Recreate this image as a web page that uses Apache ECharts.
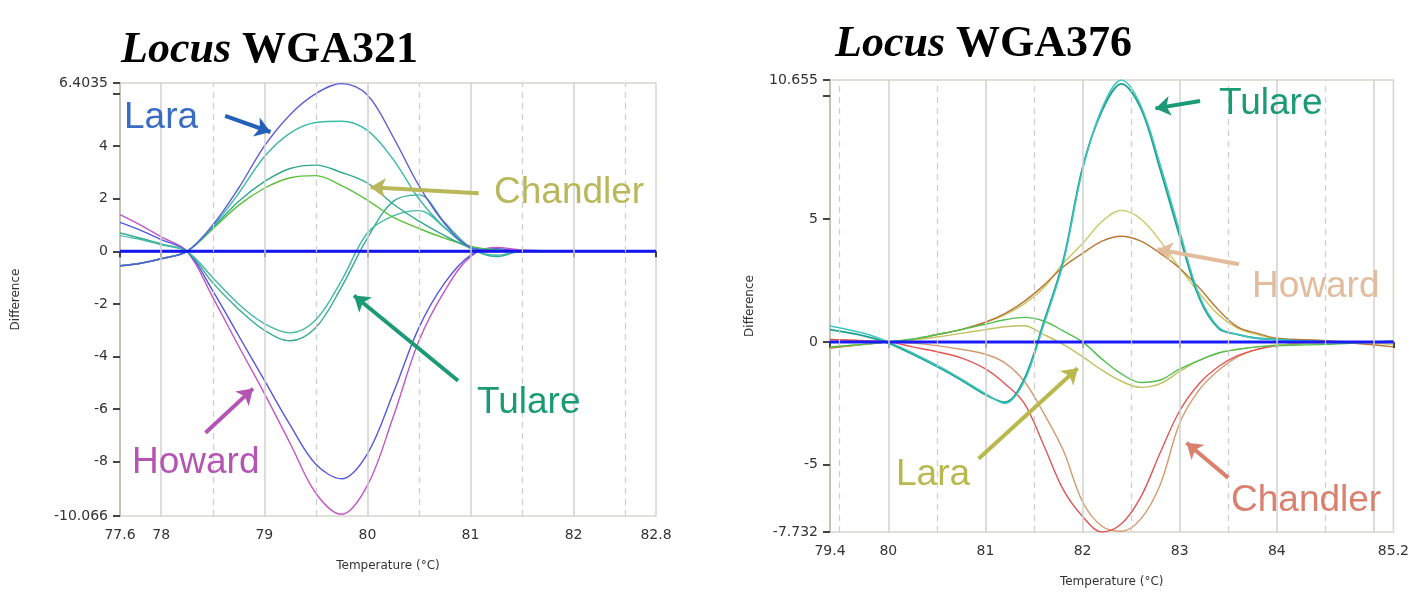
<!DOCTYPE html>
<html>
<head>
<meta charset="utf-8">
<script src="https://cdn.jsdelivr.net/npm/echarts@6/dist/echarts.min.js"></script>
<style>
  html, body { margin: 0; padding: 0; background: #fff; }
  #chart { width: 1412px; height: 598px; }
</style>
</head>
<body>
<div id="chart"></div>
<script>
// ---- Locus WGA321 (left) ----
const tempsA = [77.6, 77.8, 78.0, 78.25, 78.5, 78.75, 79.0, 79.25, 79.5, 79.75, 80.0, 80.25, 80.5, 80.75, 81.0, 81.25, 81.5, 82.0, 82.8];
const laraA = [-0.55, -0.45, -0.28, 0, 1.0, 2.4, 4.0, 5.2, 6.0, 6.38, 5.95, 4.35, 2.5, 1.05, 0.15, 0.02, 0, 0, 0];
const tealA1 = [-0.55, -0.45, -0.28, 0, 0.95, 2.2, 3.6, 4.5, 4.9, 4.95, 4.6, 3.5, 2.0, 0.9, 0.15, 0, 0, 0, 0];
const tealA2 = [-0.55, -0.45, -0.28, 0, 0.9, 1.9, 2.65, 3.15, 3.28, 3.0, 2.6, 1.8, 1.15, 0.6, 0.15, 0.05, 0, 0, 0];
const chandlerA = [-0.55, -0.45, -0.28, 0, 0.85, 1.75, 2.4, 2.8, 2.88, 2.5, 1.95, 1.3, 0.87, 0.5, 0.2, 0.05, 0, 0, 0];
const howardA = [1.4, 1.0, 0.55, 0, -1.75, -3.6, -5.4, -7.3, -9.2, -10.0, -8.9, -6.3, -3.4, -1.5, -0.2, 0.15, 0.05, 0, 0];
const blueNegA = [1.1, 0.8, 0.45, 0, -1.5, -3.2, -4.9, -6.6, -8.1, -8.65, -7.7, -5.4, -2.9, -1.2, -0.15, 0.1, 0, 0, 0];
const tulareA1 = [0.7, 0.5, 0.28, 0, -1.2, -2.2, -3.0, -3.4, -2.9, -1.35, 0.5, 1.9, 2.15, 1.1, 0.15, -0.2, 0, 0, 0];
const tulareA2 = [0.6, 0.45, 0.25, 0, -1.0, -2.0, -2.75, -3.1, -2.6, -1.1, 0.7, 1.35, 1.55, 0.9, 0.1, -0.15, 0, 0, 0];
const xTicksA = [77.6, 78, 79, 80, 81, 82, 82.8];
const yTicksA = [-10.066, -8, -6, -4, -2, 0, 2, 4, 6, 6.4035];
const yLabelsA = [-10.066, -8, -6, -4, -2, 0, 2, 4, 6.4035];
const solidGridA = [78, 79, 80, 81, 82];
const dashGridA = [78.5, 79.5, 80.5, 81.5, 82.5];

// ---- Locus WGA376 (right) ----
const tempsB = [79.4, 79.75, 80.0, 80.25, 80.5, 80.75, 81.0, 81.2, 81.4, 81.6, 81.8, 82.0, 82.2, 82.4, 82.6, 82.8, 83.0, 83.2, 83.4, 83.6, 83.8, 84.0, 84.5, 85.2];
const tulareB1 = [0.65, 0.35, 0, -0.45, -0.95, -1.5, -2.1, -2.5, -1.6, 0.7, 3.2, 7.0, 9.5, 10.65, 9.6, 7.2, 4.5, 1.9, 0.6, 0.3, 0.15, 0.1, 0, 0];
const tulareB2 = [0.5, 0.25, -0.05, -0.5, -1.0, -1.55, -2.15, -2.45, -1.5, 0.8, 3.3, 7.1, 9.4, 10.5, 9.5, 7.0, 4.3, 1.8, 0.55, 0.3, 0.15, 0.1, 0, 0];
const howardB1 = [-0.25, -0.1, 0, 0.1, 0.3, 0.5, 0.8, 1.15, 1.65, 2.3, 3.05, 3.6, 4.1, 4.3, 4.1, 3.6, 3.0, 2.2, 1.3, 0.6, 0.35, 0.15, 0.05, -0.2];
const howardB2 = [-0.25, -0.1, 0, 0.1, 0.3, 0.5, 0.8, 1.1, 1.55, 2.2, 3.2, 4.0, 4.9, 5.35, 5.0, 4.1, 3.0, 2.0, 1.1, 0.55, 0.3, 0.12, 0.05, -0.1];
const laraB1 = [-0.2, -0.1, 0, 0.12, 0.3, 0.5, 0.72, 0.9, 1.0, 0.85, 0.45, 0, -0.7, -1.3, -1.65, -1.55, -1.1, -0.75, -0.45, -0.3, -0.2, -0.15, -0.1, 0.05];
const laraB2 = [-0.2, -0.1, 0, 0.08, 0.2, 0.35, 0.5, 0.62, 0.66, 0.3, -0.1, -0.6, -1.15, -1.6, -1.85, -1.7, -1.2, -0.75, -0.45, -0.3, -0.2, -0.12, -0.05, 0];
const chandlerB1 = [0.1, 0.05, 0, -0.2, -0.4, -0.65, -1.1, -1.7, -2.5, -4.2, -6.0, -7.1, -7.73, -7.4, -6.3, -4.5, -2.8, -1.7, -1.0, -0.55, -0.3, -0.15, 0, 0];
const chandlerB2 = [0.1, 0.05, 0, -0.05, -0.15, -0.3, -0.5, -0.85, -1.6, -2.9, -4.4, -6.5, -7.5, -7.7, -7.2, -5.8, -3.3, -1.95, -1.15, -0.6, -0.3, -0.15, 0, 0];
const xTicksB = [79.4, 80, 81, 82, 83, 84, 85, 85.2];
const xLabelsB = [79.4, 80, 81, 82, 83, 84, 85.2];
const yTicksB = [-7.732, -5, 0, 5, 10, 10.655];
const yLabelsB = [-7.732, -5, 0, 5, 10.655];
const solidGridB = [80, 81, 82, 83, 84, 85];
const dashGridB = [79.5, 80.5, 81.5, 82.5, 83.5, 84.5];

// annotation arrows in data coords: [fromT, fromV, toT, toV]
const arrowsA = [
  { color: "#2360b8", pts: [78.62, 5.15, 79.06, 4.54] },
  { color: "#b8b85a", pts: [81.08, 2.21, 80.03, 2.44] },
  { color: "#1b9a78", pts: [80.88, -4.92, 79.87, -1.68] },
  { color: "#b455b4", pts: [78.43, -6.9, 78.89, -5.22] },
];
const arrowsB = [
  { color: "#1b9a78", pts: [83.21, 9.8, 82.75, 9.5] },
  { color: "#e2bc9c", pts: [83.61, 3.16, 82.77, 3.77] },
  { color: "#b8b84e", pts: [80.93, -4.75, 81.95, -1.07] },
  { color: "#d9806e", pts: [83.5, -5.53, 83.07, -4.1] },
];

const zip = (xs, ys) => xs.map((x, i) => [x, ys[i]]);

const chart = echarts.init(document.getElementById("chart"));

function gridSeries(idx, solid, dashed, xmin) {
  return {
    type: "line",
    xAxisIndex: idx,
    yAxisIndex: idx,
    data: [[xmin, 0]],
    symbol: "none",
    lineStyle: { width: 0 },
    silent: true,
    z: 1,
    markLine: {
      silent: true,
      symbol: "none",
      label: { show: false },
      data: solid
        .map((v) => ({ xAxis: v, lineStyle: { color: "#d0d0d0", width: 1.5, type: "solid" } }))
        .concat(dashed.map((v) => ({ xAxis: v, lineStyle: { color: "#cdcdcd", width: 1.2, type: [6, 5] } }))),
    },
  };
}

function curve(idx, xs, ys, color, width) {
  return {
    type: "line",
    xAxisIndex: idx,
    yAxisIndex: idx,
    data: zip(xs, ys),
    smooth: 0.35,
    symbol: "none",
    lineStyle: { color: color, width: width || 1.4 },
    z: 2,
  };
}

function arrowSeries(idx, arrows) {
  return {
    type: "line",
    xAxisIndex: idx,
    yAxisIndex: idx,
    data: [],
    z: 5,
    markLine: {
      silent: true,
      symbol: ["none", "arrow"],
      symbolSize: 15,
      label: { show: false },
      data: arrows.map((a) => [
        { coord: [a.pts[0], a.pts[1]], lineStyle: { color: a.color, width: 4, type: "solid" } },
        { coord: [a.pts[2], a.pts[3]] },
      ]),
    },
  };
}

const axisLabelStyle = { fontFamily: "DejaVu Sans", fontSize: 14, color: "#333" };

function xAxisCfg(idx, min, max, ticks, labels) {
  return {
    type: "value",
    gridIndex: idx,
    min: min,
    max: max,
    name: "Temperature (°C)",
    nameLocation: "middle",
    nameGap: 44,
    nameTextStyle: { fontFamily: "DejaVu Sans", fontSize: 12, color: "#333" },
    axisLine: { lineStyle: { color: "#c6c3b4", width: 2 } },
    axisTick: { customValues: ticks, length: 6, lineStyle: { color: "#444", width: 2 } },
    axisLabel: Object.assign({ customValues: labels, margin: 12, formatter: (v) => String(v) }, axisLabelStyle),
    splitLine: { show: false },
  };
}

function yAxisCfg(idx, min, max, ticks, labels, gap) {
  return {
    type: "value",
    gridIndex: idx,
    min: min,
    max: max,
    name: "Difference",
    nameLocation: "middle",
    nameRotate: 90,
    nameGap: gap,
    nameTextStyle: { fontFamily: "DejaVu Sans", fontSize: 12, color: "#333" },
    axisLine: { show: true, lineStyle: { color: "#c6c3b4", width: 2 } },
    axisTick: { show: true, customValues: ticks, length: 7, lineStyle: { color: "#444", width: 2 } },
    axisLabel: Object.assign({ customValues: labels, margin: 12, formatter: (v) => String(v) }, axisLabelStyle),
    splitLine: { show: false },
  };
}

const titleRich = {
  i: { fontFamily: "Liberation Serif", fontStyle: "italic", fontSize: 44, color: "#000" },
  n: { fontFamily: "Liberation Serif", fontSize: 44, color: "#000" },
};

const annoFont = "37px 'Liberation Sans'";
const annotations = [
  { text: "Lara", x: 124, y: 118, color: "#3a6cc6" },
  { text: "Chandler", x: 494, y: 193, color: "#b8b85a" },
  { text: "Tulare", x: 477, y: 403, color: "#1b9a78" },
  { text: "Howard", x: 132, y: 463, color: "#b455b4" },
  { text: "Tulare", x: 1219, y: 104, color: "#1b9a78" },
  { text: "Howard", x: 1252, y: 287, color: "#e2bc9c" },
  { text: "Lara", x: 896, y: 475, color: "#b8b84e" },
  { text: "Chandler", x: 1231, y: 501, color: "#d9806e" },
];

const option = {
  backgroundColor: "#fff",
  animation: false,
  title: [
    { left: 116, top: 24, text: "{i|Locus} {n|WGA321}", textStyle: { fontFamily: "Liberation Serif", fontSize: 44, rich: titleRich } },
    { left: 830, top: 18, text: "{i|Locus} {n|WGA376}", textStyle: { fontFamily: "Liberation Serif", fontSize: 44, rich: titleRich } },
  ],
  grid: [
    { left: 120, top: 83, width: 536, height: 433, show: true, borderColor: "#d8d6cb", borderWidth: 1.5, backgroundColor: "#fff" },
    { left: 830, top: 80, width: 569, height: 452, show: true, borderColor: "#d8d6cb", borderWidth: 1.5, backgroundColor: "#fff" },
  ],
  xAxis: [
    xAxisCfg(0, 77.6, 82.8, xTicksA, xTicksA),
    xAxisCfg(1, 79.4, 85.2, xTicksB, xLabelsB),
  ],
  yAxis: [
    yAxisCfg(0, -10.066, 6.4035, yTicksA, yLabelsA, 98),
    yAxisCfg(1, -7.732, 10.655, yTicksB, yLabelsB, 74),
  ],
  graphic: annotations.map((a) => ({
    type: "text",
    x: a.x,
    y: a.y,
    z: 100,
    style: { text: a.text, fill: a.color, font: annoFont, align: "left", verticalAlign: "middle" },
  })),
  series: [
    gridSeries(0, solidGridA, dashGridA, 77.6),
    curve(0, tempsA, howardA, "#c455c4"),
    curve(0, tempsA, blueNegA, "#5656de"),
    curve(0, tempsA, tulareA1, "#38aa96"),
    curve(0, tempsA, tulareA2, "#45b9a4"),
    curve(0, tempsA, chandlerA, "#5cbf3c"),
    curve(0, tempsA, tealA2, "#2fa88e"),
    curve(0, tempsA, tealA1, "#3cbaa8"),
    curve(0, tempsA, laraA, "#5c5cd6"),
    Object.assign(curve(0, [77.6, 82.8], [0, 0], "#1515f2", 3), { smooth: false, z: 3 }),
    arrowSeries(0, arrowsA),

    gridSeries(1, solidGridB, dashGridB, 79.4),
    curve(1, tempsB, chandlerB2, "#d49a6e"),
    curve(1, tempsB, chandlerB1, "#e05656"),
    curve(1, tempsB, howardB2, "#c8c862"),
    curve(1, tempsB, howardB1, "#b87838"),
    curve(1, tempsB, laraB2, "#c2c060"),
    curve(1, tempsB, laraB1, "#4fc050"),
    curve(1, tempsB, tulareB2, "#1f9f8c", 1.8),
    curve(1, tempsB, tulareB1, "#3ec4c0", 1.5),
    Object.assign(curve(1, [79.4, 85.2], [0, 0], "#1a1aff", 3), { smooth: false, z: 3 }),
    arrowSeries(1, arrowsB),
  ],
};

chart.setOption(option);
</script>
</body>
</html>
